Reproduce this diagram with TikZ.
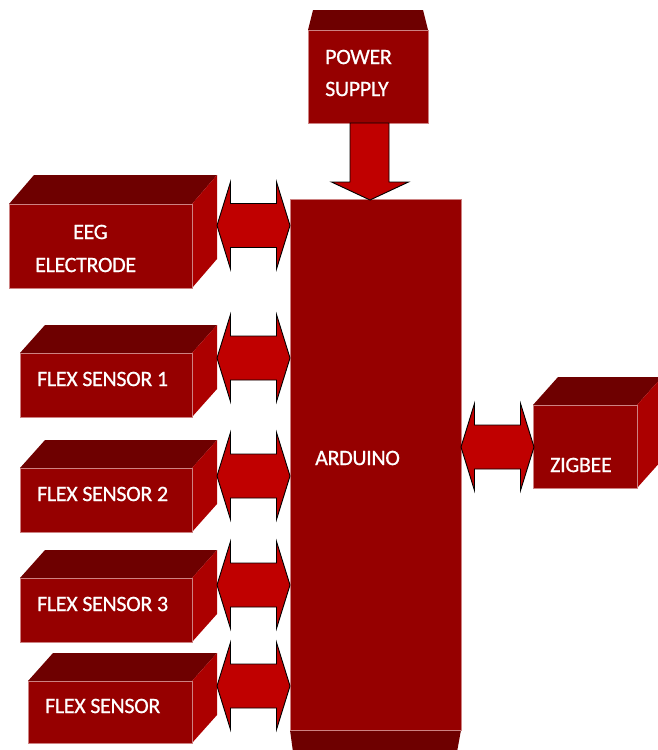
\documentclass[tikz,border=0pt]{standalone}
\usepackage{fontspec}
\setmainfont{Carlito}
\definecolor{frontc}{RGB}{150,0,0}
\definecolor{topc}{RGB}{110,0,0}
\definecolor{sidec}{RGB}{172,0,0}
\definecolor{arrc}{RGB}{192,0,0}
\definecolor{edgec}{RGB}{205,130,130}
\newcommand\cubebox[5]{% x1 y1 x2 y2 topy ; dx=25
  \fill[topc] (#1,#2) -- (#1+25,#5) -- (#3+25,#5) -- (#3,#2) -- cycle;
  \fill[sidec] (#3,#2) -- (#3+25,#5) -- (#3+25,#4-#2+#5) -- (#3,#4) -- cycle;
  \fill[frontc] (#1,#2) rectangle (#3,#4);
  \draw[edgec,line width=0.5pt] (#1,#2) rectangle (#3,#4);
}
\newcommand\dblarrow[3]{% left tip x, right tip x, center y
  \draw[arrowshape] (#1,#3) -- (#1+13.5,#3-43.5) -- (#1+13.5,#3-22) -- (#2-13.5,#3-22)
    -- (#2-13.5,#3-43.5) -- (#2,#3) -- (#2-13.5,#3+43.5) -- (#2-13.5,#3+22)
    -- (#1+13.5,#3+22) -- (#1+13.5,#3+43.5) -- cycle;
}
\tikzset{
  arrowshape/.style={fill=arrc,draw=black,line width=0.9pt,line join=miter},
  lbl/.style={text=white,font=\fontsize{22}{25}\selectfont\addfontfeature{FakeBold=0.6,LetterSpace=-1.5},inner sep=0pt,anchor=west},
}
\begin{document}
\begin{tikzpicture}[x=1pt,y=-1pt]
\useasboundingbox (0,0) rectangle (657,750);
\fill[white] (0,0) rectangle (657,750);
% boxes
\cubebox{9}{204}{192}{288}{175}
\cubebox{20}{353}{192}{417}{325}
\cubebox{20}{468}{192}{532}{440}
\cubebox{20}{578}{192}{642}{550}
\cubebox{28}{681}{192}{743}{653}
\cubebox{533}{405}{637}{488}{377}
% power supply
\fill[topc] (308,30) -- (313,10) -- (423,10) -- (428,30) -- cycle;
\fill[frontc] (308,30) rectangle (428,123);
\draw[edgec,line width=0.5pt] (308,30) rectangle (428,123);
% arduino
\fill[topc] (290,730) -- (293,752) -- (457,752) -- (461,730) -- cycle;
\fill[frontc] (290,199) rectangle (461,730);
\draw[edgec,line width=0.5pt] (290,199) rectangle (461,730);
% arrows
\draw[arrowshape] (350,123) -- (389,123) -- (389,182) -- (408.5,182) -- (370,200)
  -- (331.5,182) -- (350,182) -- cycle;
\dblarrow{217}{290}{225.5}
\dblarrow{217}{290}{358}
\dblarrow{217}{290}{476}
\dblarrow{217}{290}{585}
\dblarrow{217}{290}{686}
\dblarrow{461}{534}{447}
% labels
\node[lbl] (eeg1) at (73,232) {EEG};
\node[lbl] (eeg2) at (35,265) {ELECTRODE};
\node[lbl] (fs1) at (37,379) {FLEX SENSOR 1};
\node[lbl] (fs2) at (37,494) {FLEX SENSOR 2};
\node[lbl] (fs3) at (37,604) {FLEX SENSOR 3};
\node[lbl] (fs4) at (45,706) {FLEX SENSOR};
\node[lbl] (ps1) at (325,57) {POWER};
\node[lbl] (ps2) at (325,89) {SUPPLY};
\node[lbl] (ard) at (315,458) {ARDUINO};
\node[lbl] (zig) at (550,465) {ZIGBEE};
\end{tikzpicture}
\end{document}
